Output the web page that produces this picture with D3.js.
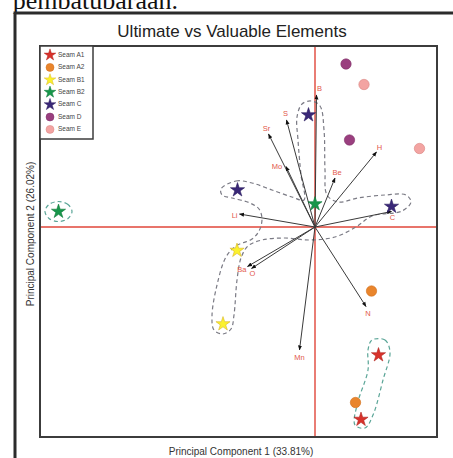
<!DOCTYPE html>
<html>
<head>
<meta charset="utf-8">
<script src="https://cdn.jsdelivr.net/npm/d3@7"></script>
<style>
  html, body { margin: 0; padding: 0; background: #fff; }
  svg { display: block; }
</style>
</head>
<body>
<svg id="chart" width="453" height="458"></svg>
<script>
// ---- Sample scores on the first two principal components ----
const seams = ["Seam A1", "Seam A2", "Seam B1", "Seam B2", "Seam C", "Seam D", "Seam E"];
const seamA1 = [[1.27, -2.56], [0.92, -3.85]];
const seamA2 = [[1.13, -1.28], [0.81, -3.51]];
const seamB1 = [[-1.56, -0.47], [-1.84, -1.94]];
const seamB2 = [[-5.13, 0.31], [0.0, 0.46]];
const seamC  = [[-0.13, 2.24], [-1.55, 0.74], [1.53, 0.41]];
const seamD  = [[0.62, 3.26], [0.69, 1.74]];
const seamE  = [[0.98, 2.85], [2.09, 1.57]];

// ---- Element loadings (vector tips) ----
const elements = ["B", "S", "Sr", "Mo", "Be", "H", "C", "Li", "Ba", "O", "N", "Mn"];
const loadPC1  = [0.03, -0.57, -0.93, -0.58, 0.40, 1.23, 1.53, -1.51, -1.35, -1.27, 1.02, -0.31];
const loadPC2  = [2.64, 2.14, 1.86, 1.21, 0.98, 1.50, 0.31, 0.26, -0.79, -0.83, -1.59, -2.46];

// ---- Group outlines (PC1, PC2) ----
const clusterMain = [
  [-1.88, 0.76], [-1.58, 0.92], [-1.26, 0.88], [-0.86, 0.74], [-0.46, 0.60], [-0.22, 0.54],
  [-0.28, 1.04], [-0.34, 1.74], [-0.36, 2.20], [-0.26, 2.46], [-0.08, 2.52], [0.10, 2.42],
  [0.18, 1.94], [0.20, 1.14], [0.24, 0.64], [0.46, 0.50], [0.86, 0.58], [1.40, 0.64],
  [1.82, 0.64], [1.92, 0.50], [1.74, 0.32], [1.14, 0.22], [0.82, 0.00], [0.40, -0.20],
  [-0.10, -0.26], [-0.60, -0.22], [-1.06, -0.26], [-1.34, -0.38], [-1.48, -0.62], [-1.56, -1.06],
  [-1.62, -1.76], [-1.68, -2.04], [-1.84, -2.14], [-2.02, -2.06], [-2.06, -1.78], [-1.96, -1.16],
  [-1.78, -0.60], [-1.58, -0.38], [-1.26, -0.24], [-1.12, -0.08], [-1.06, 0.16], [-1.12, 0.36],
  [-1.30, 0.48], [-1.66, 0.58], [-1.86, 0.64]
];
const clusterB2 = [[-4.86, 0.31], [-4.94, 0.45], [-5.13, 0.51], [-5.32, 0.45], [-5.40, 0.31], [-5.32, 0.17], [-5.13, 0.11], [-4.94, 0.17]];
const clusterA1 = [[1.14, -2.26], [1.40, -2.26], [1.50, -2.50], [1.36, -3.06], [1.16, -3.76], [1.00, -4.02], [0.80, -3.96], [0.84, -3.56], [1.06, -2.86], [1.06, -2.46]];

const title = "Ultimate vs Valuable Elements";
const xTitle = "Principal Component 1 (33.81%)";
const yTitle = "Principal Component 2 (26.02%)";

// ---- Styling ----
const seamStyle = {
  "Seam A1": { shape: "star",   fill: "#d8322b", stroke: "#b02520" },
  "Seam A2": { shape: "circle", fill: "#e9852c", stroke: "#d06e1c" },
  "Seam B1": { shape: "star",   fill: "#fbf12d", stroke: "#d9b628" },
  "Seam B2": { shape: "star",   fill: "#17964a", stroke: "#0f7a3a" },
  "Seam C":  { shape: "star",   fill: "#3a2878", stroke: "#2a1b5e" },
  "Seam D":  { shape: "circle", fill: "#9a3f7f", stroke: "#7f3068" },
  "Seam E":  { shape: "circle", fill: "#f3a4a2", stroke: "#d98582" }
};
const seamData = [seamA1, seamA2, seamB1, seamB2, seamC, seamD, seamE];

const svg = d3.select("#chart");
const plot = { left: 40, top: 46, right: 437, bottom: 437 };

const x = d3.scaleLinear().domain([-5.5, 2.44]).range([plot.left, plot.right]);
const y = d3.scaleLinear().domain([-4.2, 3.62]).range([plot.bottom, plot.top]);

// caption fragment above the figure frame
svg.append("text")
  .attr("x", 178).attr("y", 9)
  .attr("text-anchor", "end")
  .attr("font-family", "Liberation Serif, serif")
  .attr("font-size", 26)
  .attr("fill", "#111")
  .text("pembatubaraan.");

// outer figure frame
svg.append("path")
  .attr("d", `M15,460 L15,13 L456,13`)
  .attr("fill", "none")
  .attr("stroke", "#2b2b2b")
  .attr("stroke-width", 3);

// title
svg.append("text")
  .attr("x", 232).attr("y", 37)
  .attr("text-anchor", "middle")
  .attr("font-family", "Liberation Sans, Arial, sans-serif")
  .attr("font-size", 17)
  .attr("fill", "#222")
  .text(title);

const defs = svg.append("defs");
defs.append("clipPath").attr("id", "plotClip")
  .append("rect")
  .attr("x", plot.left).attr("y", plot.top)
  .attr("width", plot.right - plot.left).attr("height", plot.bottom - plot.top);

defs.append("marker")
  .attr("id", "arrowHead")
  .attr("viewBox", "0 0 10 10")
  .attr("refX", 9).attr("refY", 5)
  .attr("markerWidth", 5).attr("markerHeight", 5)
  .attr("orient", "auto")
  .append("path")
  .attr("d", "M0,1 L10,5 L0,9 Z")
  .attr("fill", "#111");

const g = svg.append("g").attr("clip-path", "url(#plotClip)");

// zero lines
g.append("line")
  .attr("x1", x(0)).attr("x2", x(0))
  .attr("y1", plot.top).attr("y2", plot.bottom)
  .attr("stroke", "#e0463a").attr("stroke-width", 1.4);
g.append("line")
  .attr("x1", plot.left).attr("x2", plot.right)
  .attr("y1", y(0)).attr("y2", y(0))
  .attr("stroke", "#e0463a").attr("stroke-width", 1.4);

// group outlines
const outline = d3.line().x(d => x(d[0])).y(d => y(d[1])).curve(d3.curveCatmullRomClosed.alpha(0.5));
g.append("path").attr("d", outline(clusterMain))
  .attr("fill", "none").attr("stroke", "#7a7a84").attr("stroke-width", 1.2)
  .attr("stroke-dasharray", "4,3");
[clusterB2, clusterA1].forEach(c => {
  g.append("path").attr("d", outline(c))
    .attr("fill", "none").attr("stroke", "#5aa597").attr("stroke-width", 1.2)
    .attr("stroke-dasharray", "4,3");
});

// loading vectors
const loadings = elements.map((e, i) => ({ name: e, pc1: loadPC1[i], pc2: loadPC2[i] }));
g.selectAll("line.vec").data(loadings).join("line")
  .attr("class", "vec")
  .attr("x1", x(0)).attr("y1", y(0))
  .attr("x2", d => x(d.pc1)).attr("y2", d => y(d.pc2))
  .attr("stroke", "#3a3a3a").attr("stroke-width", 1)
  .attr("marker-end", "url(#arrowHead)");

// label placement next to each vector tip
const labelNudge = {
  B: [3, -6, "middle"], S: [-1, -6, "middle"], Sr: [-2, -5, "middle"], Mo: [-9, 1, "middle"],
  Be: [2, -5, "middle"], H: [3, -4, "middle"], C: [1, 7, "middle"], Li: [-2, 2, "end"],
  Ba: [-1, 4, "end"], O: [1, 6, "middle"], N: [2, 8, "middle"], Mn: [0, 8, "middle"]
};
g.selectAll("text.vlab").data(loadings).join("text")
  .attr("class", "vlab")
  .attr("x", d => x(d.pc1) + labelNudge[d.name][0])
  .attr("y", d => y(d.pc2) + labelNudge[d.name][1])
  .attr("text-anchor", d => labelNudge[d.name][2])
  .attr("dominant-baseline", "middle")
  .attr("font-family", "Liberation Sans, Arial, sans-serif")
  .attr("font-size", 7.5)
  .attr("fill", "#e2584a")
  .text(d => d.name);

// sample points
const starPath = size => d3.symbol().type(d3.symbolStar).size(size)();
seams.forEach((s, i) => {
  const st = seamStyle[s];
  const pts = seamData[i];
  if (st.shape === "star") {
    g.selectAll(null).data(pts).join("path")
      .attr("d", starPath(62))
      .attr("transform", d => `translate(${x(d[0])},${y(d[1])})`)
      .attr("fill", st.fill).attr("stroke", st.stroke).attr("stroke-width", 0.6);
  } else {
    g.selectAll(null).data(pts).join("circle")
      .attr("cx", d => x(d[0])).attr("cy", d => y(d[1])).attr("r", 5.2)
      .attr("fill", st.fill).attr("stroke", st.stroke).attr("stroke-width", 0.6);
  }
});

// plot frame
svg.append("rect")
  .attr("x", plot.left).attr("y", plot.top)
  .attr("width", plot.right - plot.left).attr("height", plot.bottom - plot.top)
  .attr("fill", "none").attr("stroke", "#3c3c3c").attr("stroke-width", 2);

// legend
const legend = svg.append("g");
legend.append("rect")
  .attr("x", plot.left).attr("y", plot.top)
  .attr("width", 53).attr("height", 93)
  .attr("fill", "#fff").attr("stroke", "#3c3c3c").attr("stroke-width", 1.5);
seams.forEach((s, i) => {
  const st = seamStyle[s];
  const cy = 55 + i * 12.4;
  if (st.shape === "star") {
    legend.append("path").attr("d", starPath(42))
      .attr("transform", `translate(50,${cy})`)
      .attr("fill", st.fill).attr("stroke", st.stroke).attr("stroke-width", 0.5);
  } else {
    legend.append("circle").attr("cx", 50).attr("cy", cy).attr("r", 4)
      .attr("fill", st.fill).attr("stroke", st.stroke).attr("stroke-width", 0.5);
  }
  legend.append("text")
    .attr("x", 58).attr("y", cy)
    .attr("dominant-baseline", "middle")
    .attr("font-family", "Liberation Sans, Arial, sans-serif")
    .attr("font-size", 6.5)
    .attr("fill", "#444")
    .text(s);
});

// axis titles
svg.append("text")
  .attr("x", 241).attr("y", 455)
  .attr("text-anchor", "middle")
  .attr("font-family", "Liberation Sans, Arial, sans-serif")
  .attr("font-size", 10)
  .attr("fill", "#333")
  .text(xTitle);
svg.append("text")
  .attr("transform", `translate(34,234) rotate(-90)`)
  .attr("text-anchor", "middle")
  .attr("font-family", "Liberation Sans, Arial, sans-serif")
  .attr("font-size", 10)
  .attr("fill", "#333")
  .text(yTitle);
</script>
</body>
</html>
